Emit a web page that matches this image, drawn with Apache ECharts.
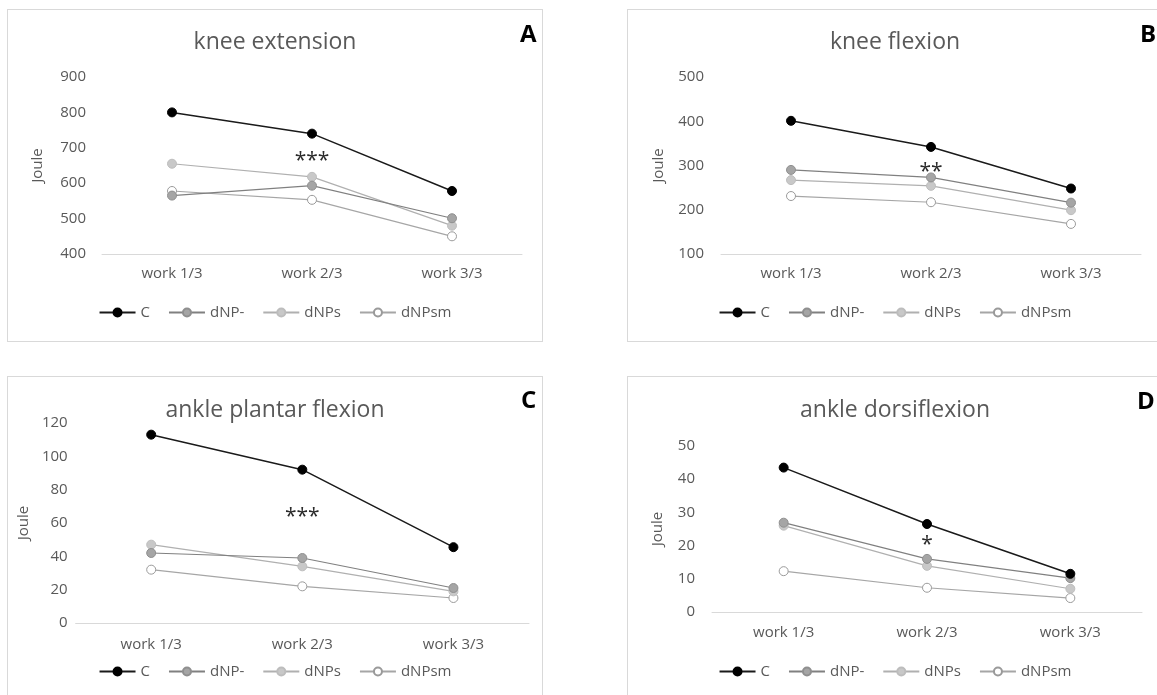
<!DOCTYPE html>
<html>
<head>
<meta charset="utf-8">
<script src="https://cdn.jsdelivr.net/npm/echarts@6/dist/echarts.min.js"></script>
<style>
  body { margin: 0; background: #fff; overflow: hidden; width: 1157px; height: 695px; position: relative; }
  .panel { position: absolute; width: 536px; height: 333px; border: 1px solid #d9d9d9; box-sizing: border-box; background: #fff; }
</style>
</head>
<body>
<div class="panel" id="panelA" style="left:7px;top:9px"></div>
<div class="panel" id="panelB" style="left:627px;top:9px"></div>
<div class="panel" id="panelC" style="left:7px;top:376px"></div>
<div class="panel" id="panelD" style="left:627px;top:376px"></div>
<script>
// shared categories / series names
const categories = ["work 1/3", "work 2/3", "work 3/3"];
const seriesNames = ["C", "dNP-", "dNPs", "dNPsm"];

// A - knee extension (Joule)
const kneeExtC = [800, 740, 578];
const kneeExtNPminus = [565, 593, 501];
const kneeExtNPs = [655, 618, 480];
const kneeExtNPsm = [578, 553, 450];

// B - knee flexion
const kneeFlexC = [401, 342, 248];
const kneeFlexNPminus = [290, 273, 216];
const kneeFlexNPs = [267, 254, 199];
const kneeFlexNPsm = [231, 217, 168];

// C - ankle plantar flexion
const plantarC = [113, 92, 45.5];
const plantarNPminus = [42, 39, 21];
const plantarNPs = [47, 34, 19];
const plantarNPsm = [32, 22, 15];

// D - ankle dorsiflexion
const dorsiC = [43.5, 26.5, 11.5];
const dorsiNPminus = [26.9, 16, 10.2];
const dorsiNPs = [26, 13.9, 7];
const dorsiNPsm = [12.3, 7.3, 4.2];

// y-axis ticks
const yTicksA = [400, 900, 100];
const yTicksB = [100, 500, 100];
const yTicksC = [0, 120, 20];
const yTicksD = [0, 50, 10];

// significance marks above work 2/3
const sigText = ["***", "**", "***", "*"];
const sigValue = [675, 295, 66, 21.5];

const TXT = "#595959";
const FONT = "Open Sans";

// look of the four groups
const seriesStyle = [
  { line: "#1a1a1a", width: 1.5, fill: "#000000", border: "#000000" },
  { line: "#808080", width: 1.2, fill: "#a5a5a5", border: "#8f8f8f" },
  { line: "#b0b0b0", width: 1.2, fill: "#c8c8c8", border: "#bdbdbd" },
  { line: "#a6a6a6", width: 1.2, fill: "#ffffff", border: "#9a9a9a" },
];

function drawChart(id, p) {
  let chart = echarts.init(document.getElementById(id), null, { renderer: "canvas" });

  let series = p.data.map(function (vals, i) {
    let st = seriesStyle[i];
    let s = {
      name: seriesNames[i],
      type: "line",
      data: vals,
      symbol: "circle",
      symbolSize: 9,
      z: 10 - i,
      lineStyle: { color: st.line, width: st.width },
      itemStyle: { color: st.fill, borderColor: st.border, borderWidth: 1 },
    };
    if (i === 0) {
      s.markPoint = {
        symbol: "circle",
        symbolSize: 1,
        itemStyle: { color: "rgba(0,0,0,0)" },
        label: {
          show: true,
          position: "inside",
          offset: [0, 4],
          formatter: p.sig,
          fontSize: 21,
          color: "#2b2b2b",
          fontFamily: FONT,
        },
        data: [{ coord: [categories[1], p.sigY] }],
      };
    }
    return s;
  });

  let option = {
    animation: false,
    textStyle: { fontFamily: FONT },
    title: [
      {
        text: p.title,
        left: "center",
        top: p.titleTop,
        padding: 0,
        textStyle: { fontSize: 23, fontWeight: "normal", color: TXT, fontFamily: FONT },
      },
      {
        text: p.letter,
        left: p.letterLeft,
        top: p.letterTop,
        padding: 0,
        textStyle: { fontSize: 24, fontWeight: "bold", color: "#000", fontFamily: FONT },
      },
    ],
    legend: {
      data: seriesNames,
      left: "center",
      top: p.legendTop,
      padding: 0,
      itemWidth: 36,
      itemHeight: 10,
      itemGap: 18,
      textStyle: { color: TXT, fontSize: 15, fontFamily: FONT },
    },
    grid: p.grid,
    xAxis: {
      type: "category",
      data: categories,
      boundaryGap: true,
      axisLine: { lineStyle: { color: "#d9d9d9", width: 1 } },
      axisTick: { show: false },
      axisLabel: { color: TXT, fontSize: 15, margin: p.xMargin, fontFamily: FONT },
    },
    yAxis: {
      type: "value",
      min: p.ticks[0],
      max: p.ticks[1],
      interval: p.ticks[2],
      name: "Joule",
      nameLocation: "middle",
      nameGap: p.nameGap,
      nameTextStyle: { color: TXT, fontSize: 15, fontFamily: FONT },
      axisLine: { show: false },
      axisTick: { show: false },
      splitLine: { show: false },
      axisLabel: { color: TXT, fontSize: 15, margin: p.yMargin, fontFamily: FONT },
    },
    series: series,
  };

  chart.setOption(option);
}

drawChart("panelA", {
  title: "knee extension", letter: "A",
  titleTop: 21, letterLeft: 512, letterTop: 13, legendTop: 295,
  grid: { left: 94, top: 67, width: 420, height: 177 },
  xMargin: 12, yMargin: 16, nameGap: 57,
  ticks: yTicksA, sig: sigText[0], sigY: sigValue[0],
  data: [kneeExtC, kneeExtNPminus, kneeExtNPs, kneeExtNPsm],
});

drawChart("panelB", {
  title: "knee flexion", letter: "B",
  titleTop: 21, letterLeft: 512, letterTop: 13, legendTop: 295,
  grid: { left: 93, top: 67, width: 420, height: 177 },
  xMargin: 12, yMargin: 17, nameGap: 55,
  ticks: yTicksB, sig: sigText[1], sigY: sigValue[1],
  data: [kneeFlexC, kneeFlexNPminus, kneeFlexNPs, kneeFlexNPsm],
});

drawChart("panelC", {
  title: "ankle plantar flexion", letter: "C",
  titleTop: 22, letterLeft: 513, letterTop: 12, legendTop: 287,
  grid: { left: 66, top: 46, width: 455, height: 200 },
  xMargin: 14, yMargin: 8, nameGap: 43,
  ticks: yTicksC, sig: sigText[2], sigY: sigValue[2],
  data: [plantarC, plantarNPminus, plantarNPs, plantarNPsm],
});

drawChart("panelD", {
  title: "ankle dorsiflexion", letter: "D",
  titleTop: 22, letterLeft: 509, letterTop: 13, legendTop: 287,
  grid: { left: 84, top: 69, width: 430, height: 166 },
  xMargin: 13, yMargin: 17, nameGap: 47,
  ticks: yTicksD, sig: sigText[3], sigY: sigValue[3],
  data: [dorsiC, dorsiNPminus, dorsiNPs, dorsiNPsm],
});
</script>
</body>
</html>
